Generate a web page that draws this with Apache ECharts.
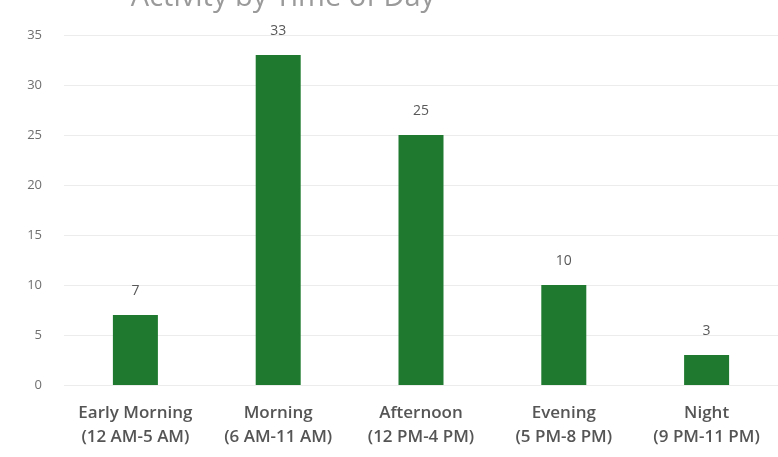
<!DOCTYPE html>
<html><head><meta charset="utf-8">
<script src="https://cdn.jsdelivr.net/npm/echarts@6/dist/echarts.min.js"></script>
<style>html,body{margin:0;padding:0;background:#fff}#c{width:778px;height:457px}</style>
</head><body><div id="c"></div>
<script>
const titleText = "Activity by Time of Day";
const categories = ["Early Morning\n(12 AM-5 AM)", "Morning\n(6 AM-11 AM)", "Afternoon\n(12 PM-4 PM)", "Evening\n(5 PM-8 PM)", "Night\n(9 PM-11 PM)"];
const values = [7, 33, 25, 10, 3];
const yMin = 0, yMax = 35, yStep = 5;

const chart = echarts.init(document.getElementById('c'));
chart.setOption({
  animation: false,
  title: { text: titleText, left: 278, top: -22, textAlign: 'center',
    textStyle: { fontFamily: 'Open Sans', fontSize: 29, fontWeight: 'normal', color: '#9a9a9a' } },
  grid: { left: 64, top: 35, width: 720, height: 350, containLabel: false },
  xAxis: {
    type: 'category', data: categories,
    axisLine: { show: false }, axisTick: { show: false },
    axisLabel: { color: '#555555', fontFamily: 'Open Sans', fontSize: 17, fontWeight: 600, lineHeight: 24, margin: 16, interval: 0 }
  },
  yAxis: {
    type: 'value', min: yMin, max: yMax, interval: yStep,
    axisLine: { show: false }, axisTick: { show: false },
    axisLabel: { color: '#6f6f6f', fontFamily: 'Open Sans', fontSize: 13, margin: 22 },
    splitLine: { lineStyle: { color: '#ececec', width: 1 } }
  },
  series: [{
    type: 'bar', data: values, barWidth: 45,
    itemStyle: { color: '#1f7a2f' },
    label: { show: true, position: 'top', distance: 17, color: '#595959', fontFamily: 'Open Sans', fontSize: 14 }
  }]
});
</script></body></html>
